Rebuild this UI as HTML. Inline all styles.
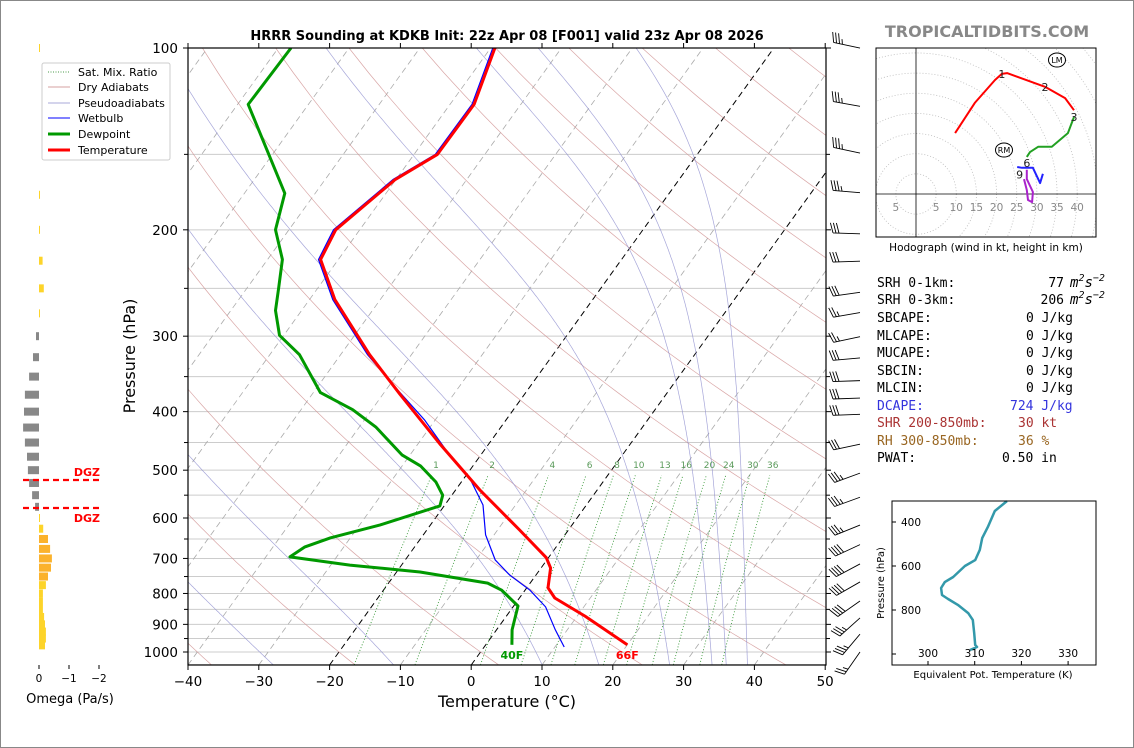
<!DOCTYPE html>
<html><head><meta charset="utf-8">
<style>
html,body{margin:0;padding:0;background:#fff;}
svg{display:block;font-family:"DejaVu Sans","Liberation Sans",sans-serif;}
.mono{font-family:"DejaVu Sans Mono","Liberation Mono",monospace;font-size:13px;}
</style></head>
<body>
<svg id="chart" width="1134" height="748" viewBox="0 0 1134 748" xmlns="http://www.w3.org/2000/svg">
<rect x="0.5" y="0.5" width="1133" height="747" fill="#fff" stroke="#888"/>
<defs>
<clipPath id="mainClip"><rect x="188" y="48" width="638" height="617"/></clipPath>
<clipPath id="hodoClip"><rect x="876" y="48" width="220" height="189"/></clipPath>
</defs>
<g id="bg" clip-path="url(#mainClip)"></g>
<g id="series" clip-path="url(#mainClip)"></g>
<g id="axes"></g>
<g id="omega"></g>
<g id="barbs"></g>
<g id="hodo"></g>
<g id="thetae"></g>

<text x="507" y="40" text-anchor="middle" font-size="13" font-weight="bold">HRRR Sounding at KDKB Init: 22z Apr 08 [F001] valid 23z Apr 08 2026</text>
<text x="987" y="37" text-anchor="middle" font-size="16" font-weight="bold" fill="#888">TROPICALTIDBITS.COM</text>

<g>
<rect x="42" y="63" width="128" height="97" fill="#fff" stroke="#ccc" rx="2"/>
<line x1="48" y1="72" x2="70" y2="72" stroke="#4a9a4a" stroke-dasharray="1,1.5" stroke-width="1"/>
<text x="78" y="76" font-size="11">Sat. Mix. Ratio</text>
<line x1="48" y1="87" x2="70" y2="87" stroke="#d4a0a0" stroke-width="1"/>
<text x="78" y="91" font-size="11">Dry Adiabats</text>
<line x1="48" y1="103" x2="70" y2="103" stroke="#a8a8d8" stroke-width="1"/>
<text x="78" y="107" font-size="11">Pseudoadiabats</text>
<line x1="48" y1="118" x2="70" y2="118" stroke="#0000ff" stroke-width="1"/>
<text x="78" y="122" font-size="11">Wetbulb</text>
<line x1="48" y1="134" x2="70" y2="134" stroke="#009900" stroke-width="3"/>
<text x="78" y="138" font-size="11">Dewpoint</text>
<line x1="48" y1="150" x2="70" y2="150" stroke="#ff0000" stroke-width="3"/>
<text x="78" y="154" font-size="11">Temperature</text>
</g>

<g class="mono">
<text x="877" y="287">SRH 0-1km:</text><text x="1064" y="287" text-anchor="end">77</text><text x="1070" y="287" font-style="italic" font-size="14">m<tspan font-size="10" dy="-6">2</tspan><tspan dy="6">s</tspan><tspan font-size="10" dy="-6">−2</tspan></text>
<text x="877" y="304">SRH 0-3km:</text><text x="1064" y="304" text-anchor="end">206</text><text x="1070" y="304" font-style="italic" font-size="14">m<tspan font-size="10" dy="-6">2</tspan><tspan dy="6">s</tspan><tspan font-size="10" dy="-6">−2</tspan></text>
<text x="877" y="322">SBCAPE:</text><text x="1026" y="322">0 J/kg</text>
<text x="877" y="340">MLCAPE:</text><text x="1026" y="340">0 J/kg</text>
<text x="877" y="357">MUCAPE:</text><text x="1026" y="357">0 J/kg</text>
<text x="877" y="375">SBCIN:</text><text x="1026" y="375">0 J/kg</text>
<text x="877" y="392">MLCIN:</text><text x="1026" y="392">0 J/kg</text>
<text x="877" y="410" fill="#3333dd">DCAPE:</text><text x="1010" y="410" fill="#3333dd">724 J/kg</text>
<text x="877" y="427" fill="#aa3333">SHR 200-850mb:</text><text x="1018" y="427" fill="#aa3333">30 kt</text>
<text x="877" y="445" fill="#996622">RH 300-850mb:</text><text x="1018" y="445" fill="#996622">36 %</text>
<text x="877" y="462">PWAT:</text><text x="1002" y="462">0.50 in</text>
</g>
</svg>
<script>
// ---------- Sounding data ----------
var tempP  = [973,872,814,783,726,698,628,539,454,375,322,261,224,200,165,150,124,100];
var tempT  = [20.0,11.1,5.0,3.0,1.35,-0.3,-6.9,-16.6,-26.7,-37.5,-45.9,-56.4,-62.5,-63.4,-60.1,-56.7,-56.6,-59.4];
var dewP   = [973,919,839,790,769,737,718,696,670,647,616,573,550,523,492,472,424,397,372,322,299,272,250,224,200,174,124,100];
var dewT   = [3.7,2.2,0.6,-3.3,-6.0,-16.7,-27.3,-36.6,-35.5,-32.8,-27.1,-20.6,-21.3,-23.6,-27.4,-31.1,-37.7,-42.7,-49.0,-55.8,-60.6,-63.7,-65.5,-67.9,-71.9,-74.3,-88.5,-88.2];
var wbP    = [981,919,842,790,746,704,640,571,519,472,413,368,322,261,224,200,165,150,124,100];
var wbT    = [11.3,8.3,4.6,0.7,-3.7,-7.3,-11.2,-14.6,-18.9,-24.4,-31.5,-38.4,-46.2,-56.7,-62.8,-63.7,-60.4,-57.0,-56.9,-59.7];
var sfcLabels = ["66F","40F"];
// omega
var omegaP = [100,175,200,225,250,275,300,325,350,375,400,425,450,475,500,525,550,575,600,625,650,675,700,725,750,775,800,825,850,875,900,925,950,975];
var omegaV = [-0.02,-0.02,-0.02,-0.12,-0.16,-0.03,0.1,0.2,0.33,0.47,0.5,0.53,0.47,0.4,0.37,0.33,0.23,0.13,-0.03,-0.14,-0.3,-0.37,-0.43,-0.4,-0.3,-0.23,-0.13,-0.13,-0.13,-0.17,-0.2,-0.23,-0.23,-0.2];
// winds
var windP   = [98.5,123,147,171,200,222,250,270,296,321,350,374,398,446,498,546,607,654,704,754,811,865,920,985];
var windDir = [282,280,282,275,272,268,262,260,258,265,268,268,268,258,250,250,248,245,242,240,235,228,220,215];
var windSpd = [35,35,35,35,30,30,30,25,25,30,30,30,30,30,35,35,35,40,40,40,40,35,35,25];
// hodograph (kt)
var hodoRedU = [9.7,14.6,19.6,21.3,22.6,32.0,37.0,39.2];
var hodoRedV = [15.1,22.6,28.3,29.8,30.0,26.6,23.8,20.8];
var hodoGrnU = [39.2,37.7,33.7,30.3,28.3,27.5];
var hodoGrnV = [19.1,15.1,11.7,11.7,10.4,9.2];
var hodoBluU = [25.1,26.3,29.0,30.8,31.5];
var hodoBluV = [6.7,6.5,6.5,2.7,5.0];
var hodoPurU = [27.5,27.5,29.0,28.8,27.8,27.5,26.8];
var hodoPurV = [6.0,3.7,0.5,-2.0,-1.5,1.0,3.7];
// theta-e
var thetaeP = [305,350,423,473,527,573,600,650,673,700,732,750,777,814,845,905,959,968,982];
var thetaeV = [316.9,314.3,312.8,311.6,311.1,310.1,307.9,305.4,303.6,302.8,303.0,304.3,306.4,308.6,309.6,309.9,310.1,310.5,309.0];
// ticks
var tempTicks = [-40,-30,-20,-10,0,10,20,30,40,50];
var presTicks = [100,200,300,400,500,600,700,800,900,1000];
var mixRatios = [1,2,4,6,8,10,13,16,20,24,30,36];
var omegaTicks = [0,-1,-2];
var hodoRingLabels = [-5,5,10,15,20,25,30,35,40];
var thetaeXTicks = [300,310,320,330];
var thetaeYTicks = [400,600,800,1000];

var NS = "http://www.w3.org/2000/svg";
function mk(tag, attrs, parent){var e=document.createElementNS(NS,tag);for(var k in attrs)e.setAttribute(k,attrs[k]);parent.appendChild(e);return e;}
function yP(p){return 48+604*Math.log10(p/100);}
function xT(T,y){return 188+(T+40)*7.08+0.72*(665-y);}
function ptsTP(P,T){var s=[];for(var i=0;i<P.length;i++){var y=yP(P[i]);s.push(xT(T[i],y).toFixed(1)+","+y.toFixed(1));}return s.join(" ");}

var bg=document.getElementById("bg");
for(var p=100;p<=1050;p+=50){var y=yP(p);var l=mk("line",{x1:188,x2:826,y1:y,y2:y,stroke:"#ccc","stroke-width":1},bg);

}
for(var T=-130;T<=50;T+=10){var y1=665,y2=48;var blk=(T==0||T==-20);var l=mk("line",{x1:xT(T,y1),y1:y1,x2:xT(T,y2),y2:y2,stroke:blk?"#000":"#aaa","stroke-width":blk?1:0.8,"stroke-dasharray":"6,4"},bg);

}
for(var th=-40;th<=220;th+=20){var s=[];for(var p=1050;p>=100;p-=10){var Tk=(th+273.15)*Math.pow(p/1000,0.286);var y=yP(p);s.push(xT(Tk-273.15,y).toFixed(1)+","+y.toFixed(1));}
var l=mk("polyline",{points:s.join(" "),fill:"none",stroke:"#d09090","stroke-width":0.7,opacity:0.8},bg);

}
function es(Tc){return 6.112*Math.exp(17.67*Tc/(Tc+243.5));}
var moistStart=[-110,-90,-70,-50,-40,-28,-11,10,18,28,34,36,39];
moistStart.forEach(function(T0){var Tk=T0+273.15;var s=[];for(var p=1050;p>=100;p-=2){var y=yP(p);s.push(xT(Tk-273.15,y).toFixed(1)+","+y.toFixed(1));
var e=es(Tk-273.15);var rs=0.622*e/(p-e);var Rd=287,cp=1005,Lv=2.5e6;var dTdp=(Rd*Tk+Lv*rs)/(p*(cp+Lv*Lv*rs*0.622/(Rd*Tk*Tk)));Tk-=dTdp*2;}
var l=mk("polyline",{points:s.join(" "),fill:"none",stroke:"#9090d0","stroke-width":0.7,opacity:0.8},bg);

});
function tdW(w,p){var e=w*p/(622+w);var a=Math.log(e/6.112);return 243.5*a/(17.67-a);}
mixRatios.forEach(function(w){var s=[];for(var p=1050;p>=505;p-=15){var y=yP(p);s.push(xT(tdW(w,p),y).toFixed(1)+","+y.toFixed(1));}
var l=mk("polyline",{points:s.join(" "),fill:"none",stroke:"#3a9a3a","stroke-width":0.9,"stroke-dasharray":"1,2"},bg);


var y=yP(490);var t=mk("text",{x:xT(tdW(w,490),y),y:y+3,"font-size":9,fill:"#5a9a5a","text-anchor":"middle"},bg);t.textContent=w;

});

var se=document.getElementById("series");
var wb=mk("polyline",{points:ptsTP(wbP,wbT),fill:"none",stroke:"#0000ff","stroke-width":1.2},se);


var dp=mk("polyline",{points:ptsTP(dewP,dewT),fill:"none",stroke:"#009900","stroke-width":3,"stroke-linejoin":"round"},se);


var tp=mk("polyline",{points:ptsTP(tempP,tempT),fill:"none",stroke:"#ff0000","stroke-width":3,"stroke-linejoin":"round"},se);


var sy=yP(1000)+7;
var tl=mk("text",{x:xT(tempT[0],yP(tempP[0])),y:sy,"font-size":11,"font-weight":"bold",fill:"#ff0000","text-anchor":"middle"},se);tl.textContent=sfcLabels[0];


var dl=mk("text",{x:xT(dewT[0],yP(dewP[0])),y:sy,"font-size":11,"font-weight":"bold",fill:"#009900","text-anchor":"middle"},se);dl.textContent=sfcLabels[1];



var ax=document.getElementById("axes");
mk("rect",{x:188,y:48,width:638,height:617,fill:"none",stroke:"#000","stroke-width":1.2},ax);
tempTicks.forEach(function(T){var x=188+(T+40)*7.08;mk("line",{x1:x,x2:x,y1:665,y2:670,stroke:"#000"},ax);mk("line",{x1:x,x2:x,y1:48,y2:43,stroke:"#000"},ax);
var t=mk("text",{x:x,y:686,"font-size":13.5,"text-anchor":"middle"},ax);t.textContent=(T<0?"\u2212"+(-T):T);

});
presTicks.forEach(function(p){var y=yP(p);mk("line",{x1:183,x2:188,y1:y,y2:y,stroke:"#000"},ax);mk("line",{x1:826,x2:831,y1:y,y2:y,stroke:"#000"},ax);
var t=mk("text",{x:178,y:y+5,"font-size":13.5,"text-anchor":"end"},ax);t.textContent=p;

});
for(var p=150;p<=1000;p+=100){var y=yP(p);mk("line",{x1:184,x2:188,y1:y,y2:y,stroke:"#000"},ax);mk("line",{x1:826,x2:830,y1:y,y2:y,stroke:"#000"},ax);}
var xt=mk("text",{x:507,y:707,"font-size":16,"text-anchor":"middle"},ax);xt.textContent="Temperature (\u00B0C)";


var yt=mk("text",{x:0,y:0,"font-size":16,"text-anchor":"middle",transform:"translate(135,356) rotate(-90)"},ax);yt.textContent="Pressure (hPa)";



var om=document.getElementById("omega");
function xO(v){return 39-v*30;}
omegaP.forEach(function(p,i){var v=omegaV[i];var y=yP(p);var x0=xO(0),x1=xO(v);var w=Math.max(Math.abs(x1-x0),1);
var col=v>0?"#888":(v<-0.25?"#fbb22c":"#fdd42a");
var r=mk("rect",{x:Math.min(x0,x1),y:y-4,width:w,height:8,fill:col},om);

});
[480,508].forEach(function(y){mk("line",{x1:23,x2:99,y1:y,y2:y,stroke:"#ff0000","stroke-width":2.2,"stroke-dasharray":"6,4"},om);});
var g1=mk("text",{x:100,y:476,"font-size":11,"font-weight":"bold",fill:"#ff0000","text-anchor":"end"},om);g1.textContent="DGZ";


var g2=mk("text",{x:100,y:522,"font-size":11,"font-weight":"bold",fill:"#ff0000","text-anchor":"end"},om);g2.textContent="DGZ";


omegaTicks.forEach(function(v){var x=xO(v);mk("line",{x1:x,x2:x,y1:665,y2:669,stroke:"#000"},om);var t=mk("text",{x:x,y:682,"font-size":10.5,"text-anchor":"middle"},om);t.textContent=v==0?"0":"\u2212"+(-v);

});
var ot=mk("text",{x:70,y:703,"font-size":13,"text-anchor":"middle"},om);ot.textContent="Omega (Pa/s)";



var bb=document.getElementById("barbs");
windP.forEach(function(p,i){var y=yP(p);var sx=860,sy2=y+4;var a=windDir[i]*Math.PI/180;var ux=Math.sin(a),uy=-Math.cos(a);var L=27;
var tx=sx+ux*L,ty=sy2+uy*L;var d="M"+sx+","+sy2+"L"+tx.toFixed(1)+","+ty.toFixed(1);
var px=-uy,py=ux;var spd=windSpd[i];var pos=0;var n50=Math.floor(spd/50);spd-=n50*50;var n10=Math.floor(spd/10);spd-=n10*10;var n5=spd>=5?1:0;
for(var k=0;k<n10;k++){var bx=tx-ux*pos*3,by=ty-uy*pos*3;d+="M"+bx.toFixed(1)+","+by.toFixed(1)+"l"+(px*10+ux*3).toFixed(1)+","+(py*10+uy*3).toFixed(1);pos++;}
if(n5){var bx=tx-ux*pos*3,by=ty-uy*pos*3;d+="M"+bx.toFixed(1)+","+by.toFixed(1)+"l"+(px*5+ux*1.5).toFixed(1)+","+(py*5+uy*1.5).toFixed(1);}
var pth=mk("path",{d:d,fill:"none",stroke:"#000","stroke-width":0.9},bb);

});

var ho=document.getElementById("hodo");
var hx0=916,hy0=194,hs=4.03;
function hX(u){return hx0+u*hs;} function hY(v){return hy0-v*hs;}
var hc=mk("g",{"clip-path":"url(#hodoClip)"},ho);
for(var r=5;r<=70;r+=5){mk("circle",{cx:hx0,cy:hy0,r:r*hs,fill:"none",stroke:"#bbb","stroke-width":0.8,"stroke-dasharray":"1,2"},hc);}
mk("line",{x1:876,x2:1096,y1:hy0,y2:hy0,stroke:"#000","stroke-width":0.8},hc);
mk("line",{x1:hx0,x2:hx0,y1:48,y2:237,stroke:"#000","stroke-width":0.8},hc);
hodoRingLabels.forEach(function(v){var t=mk("text",{x:hX(v),y:hy0+17,"font-size":10.5,fill:"#888","text-anchor":"middle"},ho);t.textContent=Math.abs(v);

});
function hpts(U,V){return U.map(function(u,i){return hX(u).toFixed(1)+","+hY(V[i]).toFixed(1);}).join(" ");}
[[hodoRedU,hodoRedV,"#ff0000","hodo-segment-0-3km"],[hodoGrnU,hodoGrnV,"#22a022","hodo-segment-3-6km"],[hodoBluU,hodoBluV,"#2222ff","hodo-segment-6-9km"],[hodoPurU,hodoPurV,"#aa22cc","hodo-segment-9km-up"]].forEach(function(s){
var l=mk("polyline",{points:hpts(s[0],s[1]),fill:"none",stroke:s[2],"stroke-width":2,"stroke-linejoin":"round"},hc);

});
[["1",hodoRedU[3],hodoRedV[3]],["2",hodoRedU[5],hodoRedV[5]],["3",hodoGrnU[0],hodoGrnV[0]],["6",hodoGrnU[5],hodoGrnV[5]-1.5],["9",hodoPurU[0]-1.8,hodoPurV[0]-1.2]].forEach(function(h){
var t=mk("text",{x:hX(h[1]),y:hY(h[2])+4,"font-size":11,"text-anchor":"middle",fill:"#222"},ho);t.textContent=h[0];

});
mk("ellipse",{cx:1057,cy:60,rx:8.5,ry:7,fill:"#fff",stroke:"#000"},ho);
var lm=mk("text",{x:1057,y:63,"font-size":8,"text-anchor":"middle"},ho);lm.textContent="LM";


mk("ellipse",{cx:1004,cy:150,rx:8.5,ry:7,fill:"#fff",stroke:"#000"},ho);
var rm=mk("text",{x:1004,y:153,"font-size":8,"text-anchor":"middle"},ho);rm.textContent="RM";


mk("rect",{x:876,y:48,width:220,height:189,fill:"none",stroke:"#000","stroke-width":1},ho);
var hcap=mk("text",{x:986,y:251,"font-size":10.5,"text-anchor":"middle"},ho);hcap.textContent="Hodograph (wind in kt, height in km)";



var te=document.getElementById("thetae");
function eX(v){return 928+(v-300)*4.67;} function eY(p){return 522+(p-400)*0.22;}
var tl2=mk("polyline",{points:thetaeP.map(function(p,i){return eX(thetaeV[i]).toFixed(1)+","+eY(p).toFixed(1);}).join(" "),fill:"none",stroke:"#3399aa","stroke-width":2.5,"stroke-linejoin":"round"},te);


mk("rect",{x:892,y:501,width:204,height:164,fill:"none",stroke:"#000","stroke-width":1},te);
thetaeXTicks.forEach(function(v){var x=eX(v);mk("line",{x1:x,x2:x,y1:665,y2:661,stroke:"#000"},te);var t=mk("text",{x:x,y:657,"font-size":10.5,"text-anchor":"middle"},te);t.textContent=v;

});
thetaeYTicks.forEach(function(p){var y=eY(p);mk("line",{x1:892,x2:896,y1:y,y2:y,stroke:"#000"},te);if(p<1000){var t=mk("text",{x:901,y:y+4,"font-size":10.5},te);t.textContent=p;

}});
var tx1=mk("text",{x:993,y:678,"font-size":10,"text-anchor":"middle"},te);tx1.textContent="Equivalent Pot. Temperature (K)";


var ty1=mk("text",{x:0,y:0,"font-size":10,"text-anchor":"middle",transform:"translate(884,583) rotate(-90)"},te);ty1.textContent="Pressure (hPa)";


</script>
</body></html>
